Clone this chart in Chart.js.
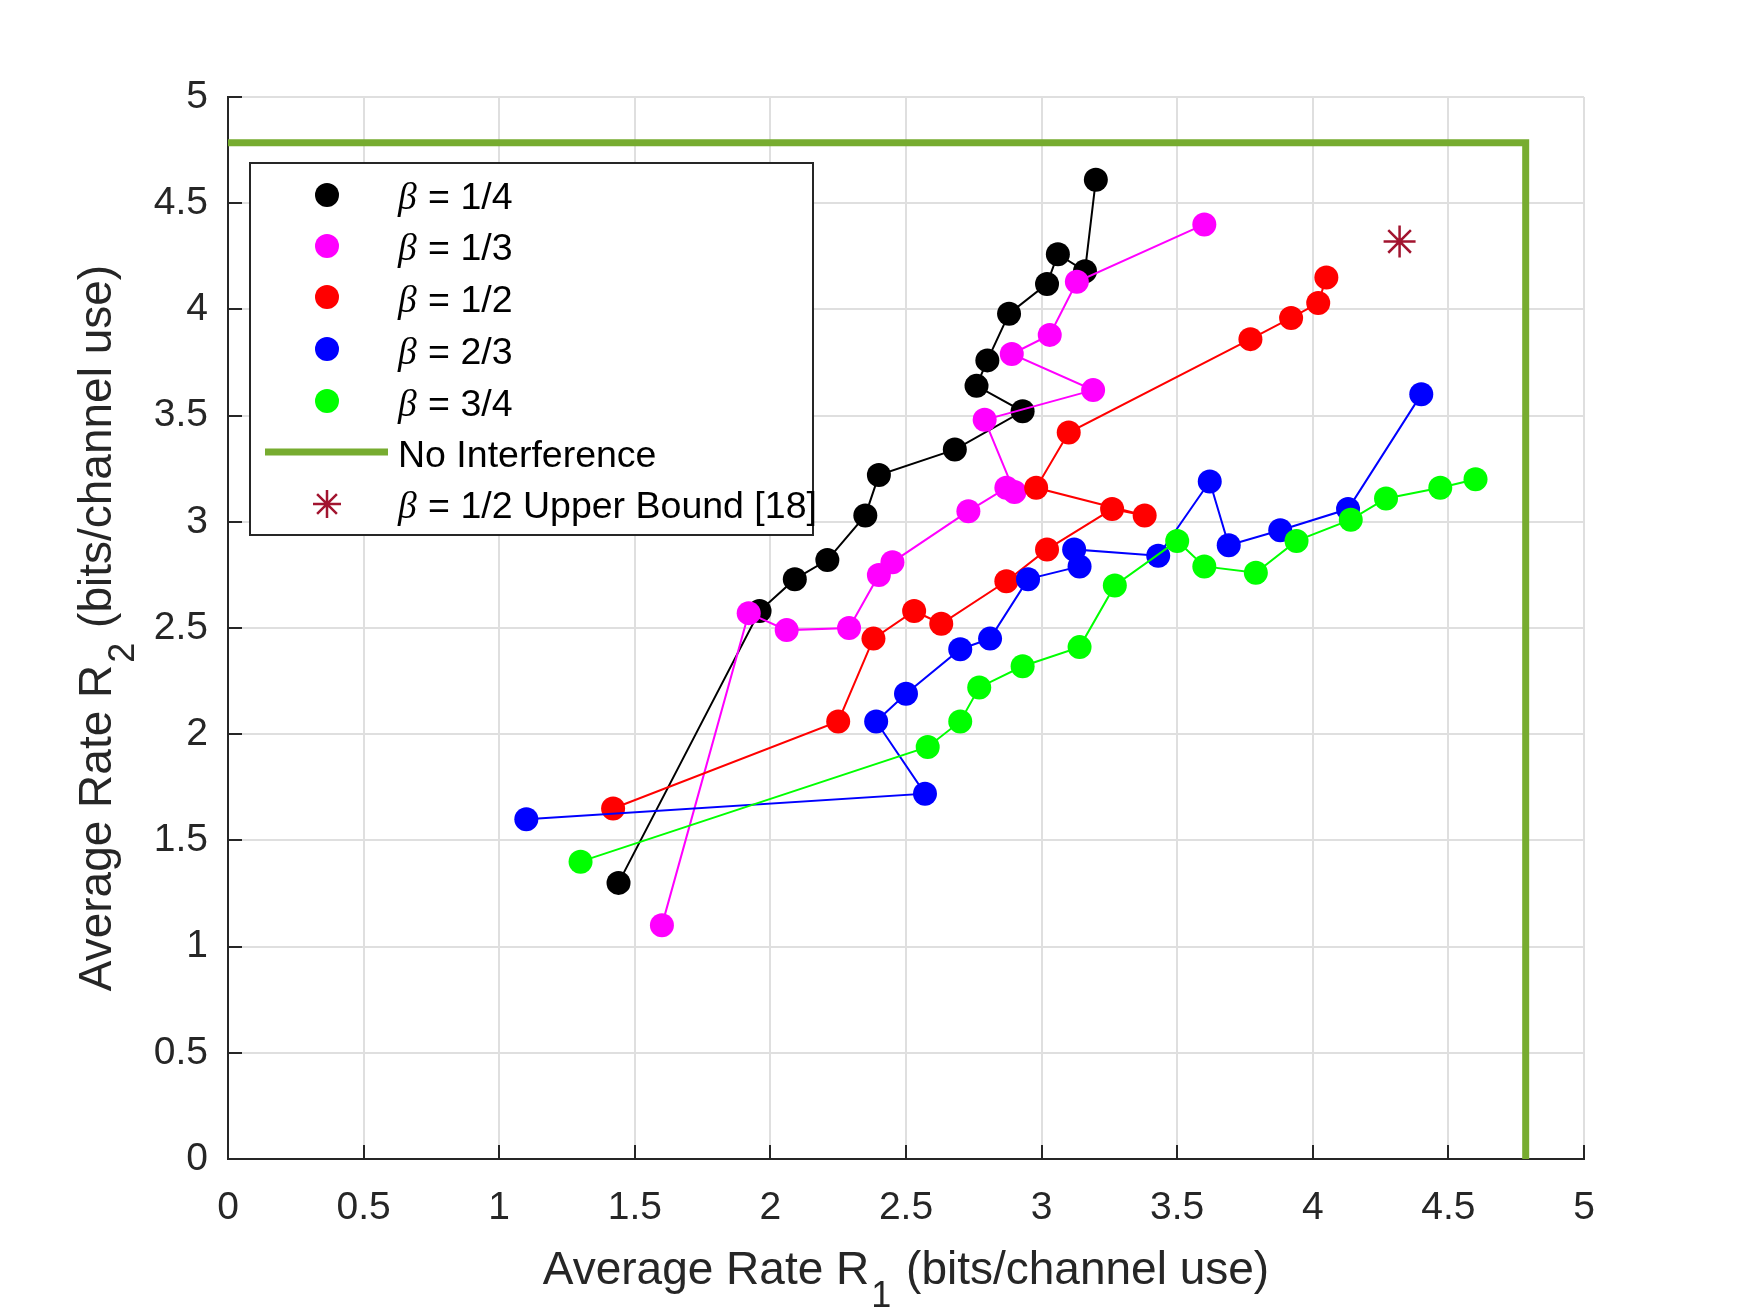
<!DOCTYPE html>
<html>
<head>
<meta charset="utf-8">
<script src="https://cdn.jsdelivr.net/npm/chart.js@4.4.1/dist/chart.umd.min.js"></script>
<style>
html,body{margin:0;padding:0;background:#ffffff;}
#wrap{width:1750px;height:1313px;position:relative;}
</style>
</head>
<body>
<div id="wrap"><canvas id="c" width="1750" height="1313"></canvas></div>
<script>
// ---------- data ----------
const seriesLabels = ['β = 1/4', 'β = 1/3', 'β = 1/2', 'β = 2/3', 'β = 3/4'];
const seriesColors = ['#000000', '#FF00FF', '#FF0000', '#0000FF', '#00FF00'];

const beta14X = [1.44, 1.96, 2.09, 2.21, 2.35, 2.40, 2.68, 2.93, 2.76, 2.80, 2.88, 3.02, 3.06, 3.16, 3.20];
const beta14Y = [1.30, 2.58, 2.73, 2.82, 3.03, 3.22, 3.34, 3.52, 3.64, 3.76, 3.98, 4.12, 4.26, 4.18, 4.61];

const beta13X = [1.60, 1.92, 2.06, 2.29, 2.40, 2.45, 2.73, 2.87, 2.90, 2.79, 3.19, 2.89, 3.03, 3.13, 3.60];
const beta13Y = [1.10, 2.57, 2.49, 2.50, 2.75, 2.81, 3.05, 3.16, 3.14, 3.48, 3.62, 3.79, 3.88, 4.13, 4.40];

const beta12X = [1.42, 2.25, 2.38, 2.53, 2.63, 2.87, 3.02, 3.26, 3.38, 2.98, 3.10, 3.77, 3.92, 4.02, 4.05];
const beta12Y = [1.65, 2.06, 2.45, 2.58, 2.52, 2.72, 2.87, 3.06, 3.03, 3.16, 3.42, 3.86, 3.96, 4.03, 4.15];

const beta23X = [1.10, 2.57, 2.39, 2.50, 2.70, 2.81, 2.95, 3.14, 3.12, 3.43, 3.62, 3.69, 3.88, 4.13, 4.40];
const beta23Y = [1.60, 1.72, 2.06, 2.19, 2.40, 2.45, 2.73, 2.79, 2.87, 2.84, 3.19, 2.89, 2.96, 3.06, 3.60];

const beta34X = [1.30, 2.58, 2.70, 2.77, 2.93, 3.14, 3.27, 3.50, 3.60, 3.79, 3.94, 4.14, 4.27, 4.47, 4.60];
const beta34Y = [1.40, 1.94, 2.06, 2.22, 2.32, 2.41, 2.70, 2.91, 2.79, 2.76, 2.91, 3.01, 3.11, 3.16, 3.20];

const noInterfX = [0, 4.785, 4.785];
const noInterfY = [4.785, 4.785, 0];
const noInterfLabel = 'No Interference';
const noInterfColor = '#77AC30';

const boundX = [4.32];
const boundY = [4.32];
const boundLabel = 'β = 1/2 Upper Bound [18]';
const boundColor = '#A2142F';

const tickValues = [0, 0.5, 1, 1.5, 2, 2.5, 3, 3.5, 4, 4.5, 5];
// axis titles: [before subscript, subscript, after subscript]
const xTitleParts = ['Average Rate R', '1', ' (bits/channel use)'];
const yTitleParts = ['Average Rate R', '2', ' (bits/channel use)'];

// ---------- build ----------
const toPts = (xs, ys) => xs.map((x, i) => ({x: x, y: ys[i]}));
const seriesXs = [beta14X, beta13X, beta12X, beta23X, beta34X];
const seriesYs = [beta14Y, beta13Y, beta12Y, beta23Y, beta34Y];

const datasets = seriesXs.map((xs, i) => ({
  label: seriesLabels[i],
  data: toPts(xs, seriesYs[i]),
  showLine: true,
  borderColor: seriesColors[i],
  backgroundColor: seriesColors[i],
  borderWidth: 2,
  pointRadius: 12,
  pointHoverRadius: 12,
  pointBorderWidth: 0,
  pointBackgroundColor: seriesColors[i],
  tension: 0,
  order: 10 - i
}));
datasets.push({
  label: noInterfLabel,
  data: toPts(noInterfX, noInterfY),
  showLine: true,
  borderColor: noInterfColor,
  backgroundColor: noInterfColor,
  borderWidth: 7,
  borderCapStyle: 'butt',
  borderJoinStyle: 'miter',
  pointRadius: 0,
  pointHoverRadius: 0,
  tension: 0,
  order: 2
});
datasets.push({
  label: boundLabel,
  data: toPts(boundX, boundY),
  showLine: false,
  pointStyle: 'star',
  pointRadius: 16,
  pointHoverRadius: 16,
  pointBorderWidth: 2.5,
  borderColor: boundColor,
  backgroundColor: boundColor,
  order: 1
});

const AXIS = '#262626';
const FONT = '"Liberation Sans", Arial, Helvetica, sans-serif';

const innerTicks = {
  id: 'innerTicks',
  beforeDatasetsDraw(chart) {
    const {ctx, chartArea: a, scales: {x, y}} = chart;
    ctx.save();
    ctx.strokeStyle = AXIS;
    ctx.lineWidth = 2;
    ctx.beginPath();
    x.ticks.forEach(t => { const p = Math.round(x.getPixelForValue(t.value)); ctx.moveTo(p, a.bottom); ctx.lineTo(p, a.bottom - 14); });
    y.ticks.forEach(t => { const p = Math.round(y.getPixelForValue(t.value)); ctx.moveTo(a.left, p); ctx.lineTo(a.left + 14, p); });
    ctx.stroke();
    ctx.restore();
  }
};

function drawSubTitle(ctx, parts, fs) {
  const main = fs + 'px ' + FONT;
  const sub = Math.round(fs * 0.78) + 'px ' + FONT;
  ctx.font = main;
  const w0 = ctx.measureText(parts[0]).width;
  const w2 = ctx.measureText(parts[2]).width;
  ctx.font = sub;
  const w1 = ctx.measureText(parts[1]).width;
  const total = w0 + w1 + w2 + 4;
  let x = -total / 2;
  ctx.textAlign = 'left';
  ctx.textBaseline = 'alphabetic';
  ctx.font = main;
  ctx.fillText(parts[0], x, 0);
  x += w0 + 2;
  ctx.font = sub;
  ctx.fillText(parts[1], x, fs * 0.5);
  x += w1 + 2;
  ctx.font = main;
  ctx.fillText(parts[2], x, 0);
}

const axisTitles = {
  id: 'axisTitles',
  afterDraw(chart) {
    const {ctx, chartArea: a} = chart;
    const fs = 46;
    ctx.save();
    ctx.fillStyle = AXIS;
    ctx.translate((a.left + a.right) / 2, 1284);
    drawSubTitle(ctx, xTitleParts, fs);
    ctx.restore();
    ctx.save();
    ctx.fillStyle = AXIS;
    ctx.translate(111, (a.top + a.bottom) / 2);
    ctx.rotate(-Math.PI / 2);
    drawSubTitle(ctx, yTitleParts, fs);
    ctx.restore();
  }
};

const boxLegend = {
  id: 'boxLegend',
  afterDatasetsDraw(chart) {
    const ctx = chart.ctx;
    const bx = 250, by = 163, bw = 563, bh = 372;
    ctx.save();
    ctx.fillStyle = '#ffffff';
    ctx.fillRect(bx, by, bw, bh);
    ctx.strokeStyle = AXIS;
    ctx.lineWidth = 2;
    ctx.strokeRect(bx, by, bw, bh);
    const rows = [195, 246, 297, 349, 401, 452, 504];
    const textRows = [199, 250, 302, 354, 406, 457, 508];
    const mx = 327, tx = 398;
    const fs = 37.5;
    chart.data.datasets.forEach((ds, i) => {
      const ry = rows[i];
      if (i < 5) {
        ctx.fillStyle = ds.backgroundColor;
        ctx.beginPath();
        ctx.arc(mx, ry, 12, 0, Math.PI * 2);
        ctx.fill();
      } else if (i === 5) {
        ctx.strokeStyle = ds.borderColor;
        ctx.lineWidth = 7;
        ctx.lineCap = 'butt';
        ctx.beginPath();
        ctx.moveTo(265, ry);
        ctx.lineTo(388, ry);
        ctx.stroke();
      } else {
        ctx.strokeStyle = ds.borderColor;
        ctx.lineWidth = 2.5;
        const r = 14;
        ctx.beginPath();
        ctx.moveTo(mx, ry - r); ctx.lineTo(mx, ry + r);
        ctx.moveTo(mx - r, ry); ctx.lineTo(mx + r, ry);
        const d = r * Math.SQRT1_2;
        ctx.moveTo(mx - d, ry - d); ctx.lineTo(mx + d, ry + d);
        ctx.moveTo(mx - d, ry + d); ctx.lineTo(mx + d, ry - d);
        ctx.stroke();
      }
      ctx.fillStyle = '#000000';
      ctx.textBaseline = 'middle';
      ctx.textAlign = 'left';
      const label = ds.label;
      const ty = textRows[i];
      let x = tx;
      if (label.charAt(0) === 'β') {
        ctx.font = 'italic ' + fs + 'px "Liberation Serif", "DejaVu Serif", serif';
        ctx.fillText('β', x, ty);
        x += ctx.measureText('β').width + 1;
        ctx.font = fs + 'px ' + FONT;
        ctx.fillText(label.slice(1), x, ty);
      } else {
        ctx.font = fs + 'px ' + FONT;
        ctx.fillText(label, x, ty);
      }
    });
    ctx.restore();
  }
};

const tickCb = function (value) { return tickValues.includes(value) ? String(value) : ''; };

new Chart(document.getElementById('c'), {
  type: 'scatter',
  data: {datasets: datasets},
  options: {
    responsive: false,
    devicePixelRatio: 1,
    animation: false,
    events: [],
    layout: {padding: {top: 97, right: 166, left: 0, bottom: 0}},
    plugins: {legend: {display: false}, tooltip: {enabled: false}},
    scales: {
      x: {
        type: 'linear', min: 0, max: 5,
        afterFit(s) { s.height = 154; },
        ticks: {stepSize: 0.5, color: AXIS, font: {family: FONT, size: 39}, padding: 26, callback: tickCb, maxRotation: 0, autoSkip: false},
        grid: {color: '#dfdfdf', lineWidth: 2, drawTicks: false},
        border: {display: true, color: AXIS, width: 2},
        title: {display: false}
      },
      y: {
        type: 'linear', min: 0, max: 5,
        afterFit(s) { s.width = 228; },
        ticks: {stepSize: 0.5, color: AXIS, font: {family: FONT, size: 39}, padding: 20, callback: tickCb, autoSkip: false},
        grid: {color: '#dfdfdf', lineWidth: 2, drawTicks: false},
        border: {display: true, color: AXIS, width: 2},
        title: {display: false}
      }
    }
  },
  plugins: [innerTicks, boxLegend, axisTitles]
});
</script>
</body>
</html>
